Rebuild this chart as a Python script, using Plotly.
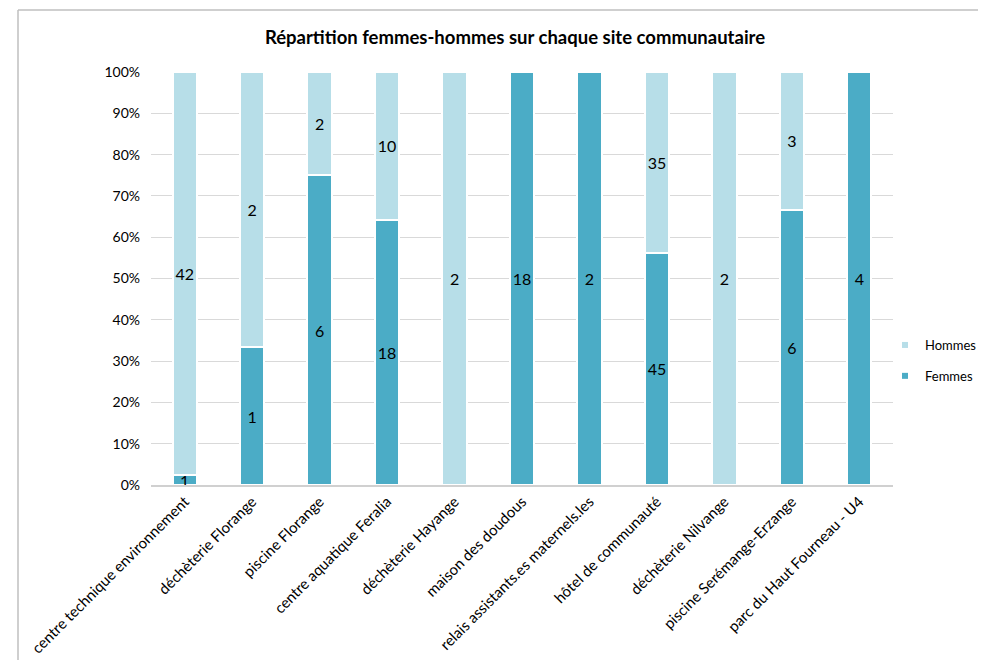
import plotly.graph_objects as go

categories = [
    "centre technique environnement",
    "déchèterie Florange",
    "piscine Florange",
    "centre aquatique Feralia",
    "déchèterie Hayange",
    "maison des doudous",
    "relais assistants.es maternels.les",
    "hôtel de communauté",
    "déchèterie Nilvange",
    "piscine Serémange-Erzange",
    "parc du Haut Fourneau - U4",
]
femmes = [1, 1, 6, 18, 0, 18, 2, 45, 0, 6, 4]
hommes = [42, 2, 2, 10, 2, 0, 0, 35, 2, 3, 0]
y_ticks = [0, 10, 20, 30, 40, 50, 60, 70, 80, 90, 100]
y_labels = [f"{v}%" for v in y_ticks]

C_F = "#4BACC6"
C_H = "#B7DEE8"
FONT = "Lato"

OFF = 8  # page body margin
W, H = 986 - 2 * OFF, 668 - 2 * OFF
L, T = 151 - OFF, 72 - OFF
R = W - (893 - OFF)
B = H - (485 - OFF)
pw, ph = W - L - R, H - T - B

fx0 = (18 - OFF - L) / pw
fy1 = (H - B - (10 - OFF)) / ph
frame_line = dict(color="#BFBFBF", width=1.5)

fig = go.Figure()
for name, vals, col in [("Femmes", femmes, C_F), ("Hommes", hommes, C_H)]:
    fig.add_trace(go.Bar(
        x=categories, y=vals, name=name, marker=dict(color=col, line=dict(color="white", width=2)),
        text=[str(v) if v else "" for v in vals], textposition="inside", textangle=0,
        insidetextanchor="middle", constraintext="none",
        textfont=dict(family=FONT, size=16, color="black"),
        showlegend=False, hoverinfo="x+y+name",
    ))
for name, col, grp in [("Hommes", C_H, "h"), ("Femmes", C_F, "f")]:
    fig.add_trace(go.Scatter(
        x=[None], y=[None], mode="markers", name=name, legendgroup=grp,
        marker=dict(symbol="square", size=6, color=col),
    ))

fig.update_layout(
    width=W, height=H,
    margin=dict(l=L, r=R, t=T, b=B, autoexpand=False),
    paper_bgcolor="white", plot_bgcolor="white",
    barmode="stack", barnorm="percent", bargap=0.64,
    title=dict(text="<b>Répartition femmes-hommes sur chaque site communautaire</b>",
               xref="container", yref="container",
               x=(515 - OFF) / W, xanchor="center", y=1 - (38 - OFF) / H, yanchor="middle",
               font=dict(family=FONT, size=18.5, color="black")),
    font=dict(family=FONT, size=14, color="black"),
    legend=dict(xref="container", yref="container",
                x=(925 - 40 - OFF) / W, y=1 - (330 - OFF) / H, xanchor="left", yanchor="top",
                traceorder="grouped", font=dict(family=FONT, size=13, color="black"),
                itemwidth=30, tracegroupgap=11, bgcolor="rgba(0,0,0,0)"),
    xaxis=dict(tickangle=-45, showline=True, linecolor="#D0D0D0", linewidth=2,
               ticks="", tickfont=dict(family=FONT, size=15, color="black")),
    yaxis=dict(range=[0, 100], tickvals=y_ticks, ticktext=y_labels, showgrid=True,
               gridcolor="#D9D9D9", gridwidth=1, zeroline=False, showline=False,
               tickfont=dict(family=FONT, size=14, color="black"), ticklabelstandoff=10),
    shapes=[
        dict(type="line", xref="paper", yref="paper", x0=fx0, x1=fx0,
             y0=-1.0, y1=fy1, line=frame_line, layer="below"),
        dict(type="line", xref="paper", yref="paper", x0=fx0, x1=1.5,
             y0=fy1, y1=fy1, line=frame_line, layer="below"),
    ],
)

fig.write_html("out.html")
